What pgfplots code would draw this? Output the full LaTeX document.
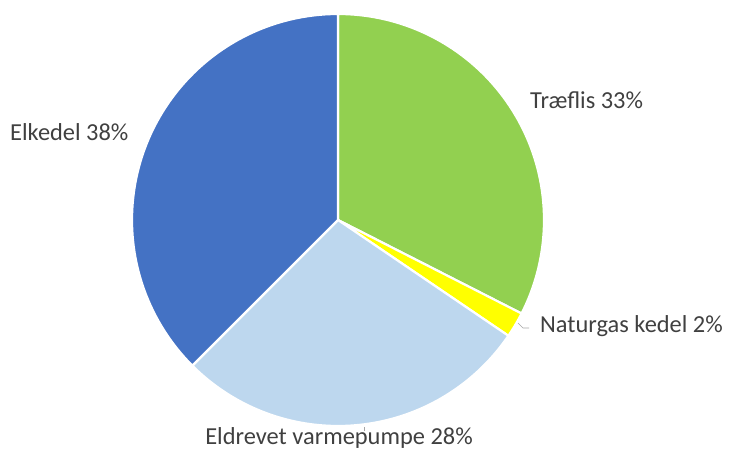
\documentclass[border=0pt]{standalone}
\usepackage{pgfplots}
\pgfplotsset{compat=1.18}
\usepackage{pgfplotstable}
\usepackage{fontspec}
\setmainfont{Carlito}
\definecolor{cTrae}{HTML}{92D050}
\definecolor{cGas}{HTML}{FFFF00}
\definecolor{cPump}{HTML}{BDD7EE}
\definecolor{cEl}{HTML}{4472C4}
\definecolor{cTxt}{HTML}{404040}
% share (percent of 360 deg), start angle, end angle (clockwise from top)
\pgfplotstableread{
name   share  start   end
Trae   32.5   90     -27
Gas    2.0    -27    -34.2
Pump   28.0   -34.2  -135
El     37.5   -135   -270
}\piedata
\begin{document}
\begin{tikzpicture}
\begin{axis}[
  scale only axis, width=730bp, height=450bp,
  xmin=-338, xmax=392, ymin=-230, ymax=220,
  hide axis, clip=false,
  every axis plot/.append style={draw=white, line width=2.2pt, line join=round},
]
\pgfplotstablegetelem{0}{start}\of\piedata\let\sA\pgfplotsretval
\pgfplotstablegetelem{0}{end}\of\piedata\let\eA\pgfplotsretval
\pgfplotstablegetelem{1}{start}\of\piedata\let\sB\pgfplotsretval
\pgfplotstablegetelem{1}{end}\of\piedata\let\eB\pgfplotsretval
\pgfplotstablegetelem{2}{start}\of\piedata\let\sC\pgfplotsretval
\pgfplotstablegetelem{2}{end}\of\piedata\let\eC\pgfplotsretval
\pgfplotstablegetelem{3}{start}\of\piedata\let\sD\pgfplotsretval
\pgfplotstablegetelem{3}{end}\of\piedata\let\eD\pgfplotsretval
\addplot[fill=cTrae, domain=\eA:\sA, samples=80] ({206*cos(x)},{206*sin(x)}) -- (axis cs:0,0) -- cycle;
\addplot[fill=cGas, domain=\eB:\sB, samples=10] ({206*cos(x)},{206*sin(x)}) -- (axis cs:0,0) -- cycle;
\addplot[fill=cPump, domain=\eC:\sC, samples=80] ({206*cos(x)},{206*sin(x)}) -- (axis cs:0,0) -- cycle;
\addplot[fill=cEl, domain=\eD:\sD, samples=80] ({206*cos(x)},{206*sin(x)}) -- (axis cs:0,0) -- cycle;
\addplot[draw=gray!70, line width=0.6pt, mark=none] coordinates {(180,-103) (185,-108) (191,-108)};
\addplot[draw=gray!70, line width=0.6pt, mark=none] coordinates {(26,-207) (26,-211)};
\begin{scope}[every node/.style={text=cTxt, font=\fontsize{24.5}{29}\selectfont, inner sep=0pt}]
\node[anchor=west] at (axis cs:192,120) {Træflis 33\%};
\node[anchor=west] at (axis cs:-328,88) {Elkedel 38\%};
\node[anchor=west] at (axis cs:202,-106) {Naturgas kedel 2\%};
\node[anchor=center] at (axis cs:1,-218) {Eldrevet varmepumpe 28\%};
\end{scope}
\end{axis}
\pgfresetboundingbox
\path[use as bounding box] (current axis.south west) rectangle (current axis.north east);
\end{tikzpicture}
\end{document}
